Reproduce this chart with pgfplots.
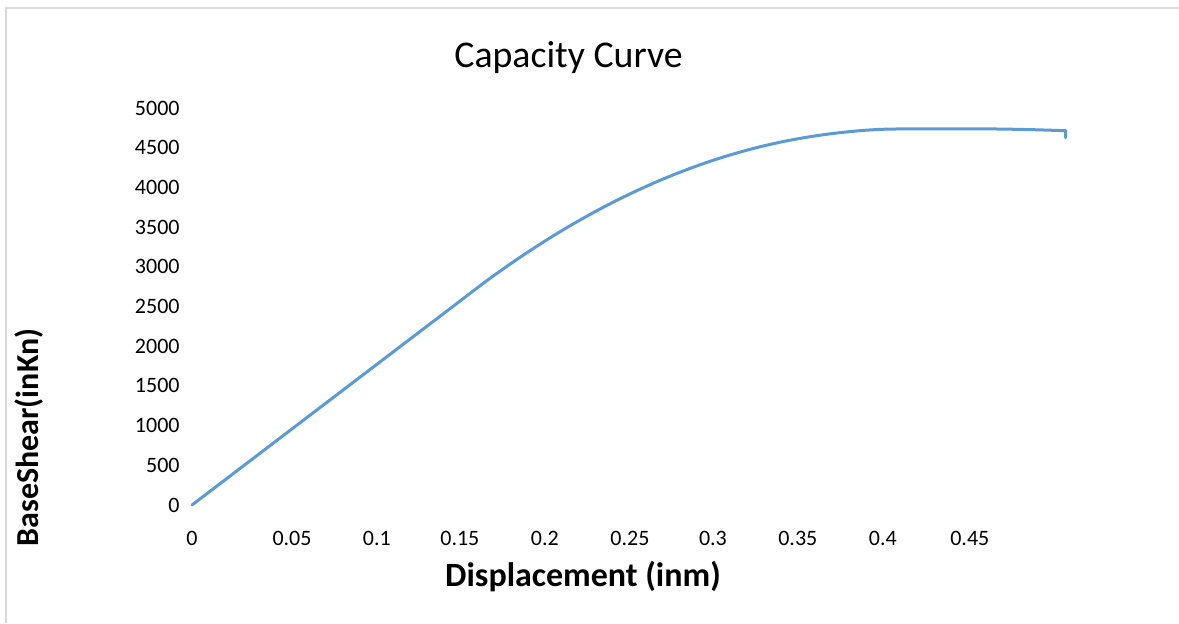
\documentclass[border=0pt]{standalone}
\usepackage{fontspec}
\setmainfont{Carlito}
\usepackage{pgfplots}
\pgfplotsset{compat=1.18}
\definecolor{excelblue}{RGB}{91,155,213}
\definecolor{frame}{RGB}{217,217,217}
\begin{document}
\begin{tikzpicture}
\path[use as bounding box] (0,0) rectangle (589.5pt,311.5pt);
\fill[white] (0,0) rectangle (589.5pt,311.5pt);
\draw[frame, line width=1pt] (3pt,0) -- (3pt,307.5pt) -- (589.5pt,307.5pt);
\begin{axis}[
  at={(96pt,59pt)}, anchor=south west,
  scale only axis, width=439pt, height=198.5pt,
  xmin=0, xmax=0.51, ymin=0, ymax=5000,
  axis line style={draw=none},
  major tick length=0pt,
  tick style={draw=none},
  /pgf/number format/assume math mode=true,
  /pgf/number format/1000 sep={},
  scaled y ticks=false,
  ytick={0,500,1000,1500,2000,2500,3000,3500,4000,4500,5000},
  xtick={0,0.0581,0.1074,0.1556,0.2050,0.2544,0.3026,0.3519,0.4013,0.4518},
  xticklabels={0,0.05,0.1,0.15,0.2,0.25,0.3,0.35,0.4,0.45},
  ticklabel style={font=\fontsize{11}{13}\selectfont, inner sep=0pt},
  yticklabel style={anchor=east, xshift=-6pt},
  xticklabel style={anchor=north, yshift=-13pt},
  clip=false,
]
\addplot[excelblue, line width=1.5pt, line join=round, line cap=round, smooth, tension=0.5] coordinates {
(0,0) (0.05,825) (0.10,1650) (0.15,2475) (0.17,2805) (0.18,2962)
(0.19,3112) (0.20,3255) (0.21,3392) (0.22,3522) (0.23,3645)
(0.24,3762) (0.25,3872) (0.26,3975) (0.27,4072) (0.28,4162)
(0.29,4245) (0.30,4322) (0.31,4392) (0.32,4455) (0.33,4512)
(0.34,4562) (0.35,4605) (0.36,4642) (0.37,4673) (0.38,4698)
(0.39,4718) (0.40,4731) (0.41,4736) (0.43,4738) (0.45,4738)
(0.47,4735) (0.49,4726) (0.5075,4714)
};
\addplot[excelblue, line width=1.5pt, line join=round, line cap=round] coordinates {
(0.5060,4716) (0.5075,4714) (0.5075,4625)
};
\end{axis}
\node[anchor=base, font=\fontsize{18.9}{22}\selectfont] at (284.25pt,278pt) {Capacity Curve};
\node[anchor=base, font=\bfseries\fontsize{17}{20}\selectfont] at (291.5pt,18.5pt) {Displacement (inm)};
\node[anchor=base, rotate=90, font=\bfseries\fontsize{16}{19}\selectfont] at (19.5pt,92.75pt) {BaseShear(inKn)};
\end{tikzpicture}
\end{document}
